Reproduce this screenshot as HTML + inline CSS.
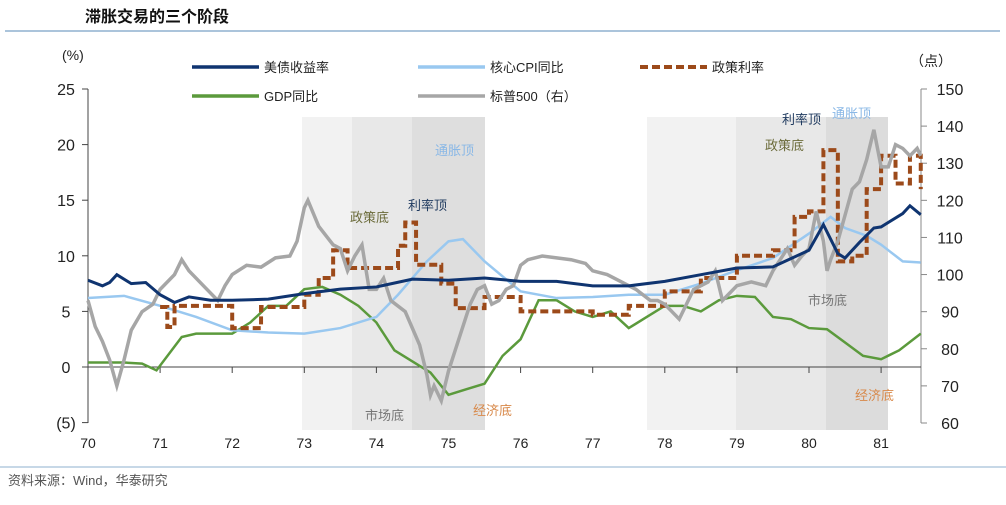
<!DOCTYPE html>
<html><head><meta charset="utf-8"><style>
body{margin:0;background:#fff;width:1006px;height:500px;overflow:hidden;font-family:"Liberation Sans","Noto Sans CJK SC",sans-serif}
svg text{font-family:"Liberation Sans","Noto Sans CJK SC",sans-serif}
</style></head><body>
<svg id="c" width="1006" height="500">
<text x="85" y="22" font-size="16" font-weight="bold" fill="#111">滞胀交易的三个阶段</text>
<line x1="5" y1="31" x2="1000" y2="31" stroke="#8fb0cf" stroke-width="1.5"/>
<text x="62" y="60" font-size="14" fill="#222">(%)</text>
<text x="910" y="66" font-size="14" fill="#222">（点）</text>
<g id="shade"></g>
<g id="axes"></g>
<g id="series"></g>
<g id="notes" font-size="13"></g>
<g id="legend" font-size="13"></g>
<line x1="0" y1="467" x2="1006" y2="467" stroke="#8fb0cf" stroke-width="1"/>
<text x="8" y="485" font-size="13" fill="#555">资料来源：Wind，华泰研究</text>
</svg>
<script>
const ns="http://www.w3.org/2000/svg";
const years=[70,71,72,73,74,75,76,77,78,79,80,81];
const leftTicks=[25,20,15,10,5,0,-5];
const rightTicks=[150,140,130,120,110,100,90,80,70,60];
const ustT=[70.0,70.2,70.3,70.4,70.6,70.8,71.0,71.2,71.4,71.7,72.0,72.5,73.0,73.5,74.0,74.5,75.0,75.5,76.0,76.5,77.0,77.5,78.0,78.5,79.0,79.5,80.0,80.2,80.4,80.5,80.7,80.9,81.0,81.3,81.4,81.55];
const ustV=[7.8,7.3,7.6,8.3,7.5,7.6,6.5,5.8,6.3,6.0,6.0,6.1,6.6,7.0,7.2,7.9,7.8,8.0,7.7,7.7,7.3,7.3,7.7,8.3,8.9,9.0,10.5,12.8,10.2,9.8,11.2,12.5,12.6,13.8,14.5,13.7];
const cpiT=[70.0,70.5,71.0,71.5,72.0,72.5,73.0,73.5,74.0,74.3,74.7,75.0,75.2,75.5,76.0,76.5,77.0,77.5,78.0,78.5,79.0,79.5,80.0,80.3,80.5,80.8,81.0,81.3,81.55];
const cpiV=[6.2,6.4,5.5,4.5,3.3,3.1,3.0,3.5,4.5,6.5,9.5,11.3,11.5,9.5,6.8,6.2,6.3,6.5,6.5,7.5,8.7,9.8,12.0,13.5,12.5,11.8,11.0,9.5,9.4];
const fedT=[71.0,71.1,71.2,72.0,72.4,73.0,73.2,73.4,73.6,74.3,74.4,74.55,74.9,75.1,75.5,76.0,77.0,77.5,78.0,78.5,79.0,79.5,79.8,80.0,80.2,80.4,80.6,80.8,81.0,81.2,81.4,81.55];
const fedV=[5.4,3.6,5.5,3.5,5.4,6.5,8.0,10.5,8.9,10.9,13.0,9.2,7.5,5.3,6.3,5.0,4.7,5.5,6.8,8.0,10.0,10.5,13.5,14.0,19.5,9.5,10.0,16.0,19.0,16.5,19.0,16.0];
const gdpT=[70.0,70.25,70.5,70.75,70.95,71.3,71.5,71.75,72.0,72.25,72.5,72.75,73.0,73.25,73.5,73.75,74.0,74.25,74.5,74.75,75.0,75.25,75.5,75.75,76.0,76.25,76.5,76.75,77.0,77.25,77.5,77.75,78.0,78.25,78.5,78.75,79.0,79.25,79.5,79.75,80.0,80.25,80.5,80.75,81.0,81.25,81.55];
const gdpV=[0.4,0.4,0.4,0.3,-0.3,2.7,3.0,3.0,3.0,4.0,5.5,5.5,7.0,7.2,6.5,5.5,4.0,1.5,0.5,-0.5,-2.5,-2.0,-1.5,1.0,2.5,6.0,6.0,5.0,4.5,5.0,3.5,4.5,5.5,5.5,5.0,6.0,6.4,6.3,4.5,4.3,3.5,3.4,2.2,1.0,0.7,1.5,3.0];
const spxT=[70.0,70.1,70.2,70.3,70.4,70.5,70.6,70.75,70.9,71.0,71.2,71.3,71.4,71.6,71.8,71.9,72.0,72.2,72.4,72.6,72.8,72.9,73.0,73.05,73.2,73.4,73.5,73.6,73.7,73.8,73.9,74.0,74.1,74.2,74.4,74.6,74.7,74.75,74.8,74.9,75.0,75.1,75.2,75.3,75.4,75.5,75.6,75.7,75.8,75.9,76.0,76.1,76.3,76.5,76.7,76.9,77.0,77.2,77.4,77.6,77.8,77.9,78.0,78.1,78.2,78.3,78.4,78.6,78.7,78.8,78.9,79.0,79.2,79.4,79.5,79.6,79.7,79.8,79.9,80.0,80.1,80.2,80.25,80.3,80.4,80.5,80.6,80.7,80.8,80.9,80.95,81.0,81.1,81.2,81.3,81.4,81.5,81.55];
const spxV=[93,86,82,77,70,77,85,90,92,96,100,104,101,97,93,97,100,102.5,102,104.5,105,109,118,120,113,108,107,101,105,108,96,96,99,93,90,81,73,67.5,70,66,74,80,86,92,96,97,92,93,96,97,102.5,104,105,104.5,104,103,101,100,98,96,93,93,92,90,88,92,96,98,101,93,95,97,98,97,101,104,107,102.5,105,107,117,109,101,104,109,116,123,125,131,139,134,129,129,135,134,132,134,132];
const X=y=>88+(y-70)*72.1;
const YL=v=>367-v*11.12;
const YR=v=>89+(150-v)*3.711;
function el(tag,attrs,parent){const e=document.createElementNS(ns,tag);for(const k in attrs)e.setAttribute(k,attrs[k]);document.getElementById(parent).appendChild(e);return e;}
[[302,352,'#f2f2f2'],[352,412,'#e8e8e8'],[412,485,'#dedede'],[647,736,'#f2f2f2'],[736,826,'#e8e8e8'],[826,888,'#dcdcdc']].forEach(s=>{
 const r=el('rect',{x:s[0],y:117,width:s[1]-s[0],height:313,fill:s[2]},'shade');
 
 
});
let a=el('line',{x1:88,y1:89,x2:88,y2:423,stroke:'#444'},'axes');
a=el('line',{x1:921,y1:89,x2:921,y2:423,stroke:'#888'},'axes');
a=el('line',{x1:88,y1:YL(0),x2:921,y2:YL(0),stroke:'#444'},'axes');
leftTicks.forEach(v=>{el('line',{x1:82,x2:88,y1:YL(v),y2:YL(v),stroke:'#444'},'axes');
 const t=el('text',{x:66,y:YL(v)+6,'font-size':16,'text-anchor':'middle',fill:'#222'},'axes');t.textContent=v<0?'('+(-v)+')':v;
 });
rightTicks.forEach(v=>{el('line',{x1:921,x2:927,y1:YR(v),y2:YR(v),stroke:'#888'},'axes');
 const t=el('text',{x:950,y:YR(v)+6,'font-size':16,'text-anchor':'middle',fill:'#222'},'axes');t.textContent=v;
 });
years.forEach(y=>{el('line',{x1:X(y),x2:X(y),y1:YL(0),y2:YL(0)+6,stroke:'#444'},'axes');
 const t=el('text',{x:X(y),y:448,'font-size':14,'text-anchor':'middle',fill:'#222'},'axes');t.textContent=y;
 });
function pathOf(T,V,Y,step){let d='';T.forEach((t,i)=>{if(i===0)d='M'+X(t)+','+Y(V[i]);else if(step)d+='H'+X(t)+'V'+Y(V[i]);else d+='L'+X(t)+','+Y(V[i]);});return d;}
let p=el('path',{d:pathOf(gdpT,gdpV,YL),fill:'none',stroke:'#5b9a3c','stroke-width':2.5},'series');
p=el('path',{d:pathOf(cpiT,cpiV,YL),fill:'none',stroke:'#99c8f0','stroke-width':2.5},'series');
p=el('path',{d:pathOf(fedT,fedV,YL,true),fill:'none',stroke:'#9c4a1a','stroke-width':4,'stroke-dasharray':'8,4'},'series');
p=el('path',{d:pathOf(spxT,spxV,YR),fill:'none',stroke:'#a6a6a6','stroke-width':3.5},'series');
p=el('path',{d:pathOf(ustT,ustV,YL),fill:'none',stroke:'#0f3470','stroke-width':3},'series');
[['通胀顶',435,155,'#8ab8e6'],['利率顶',408,210,'#1f3a5f'],['政策底',350,222,'#6b6b3a'],['市场底',365,420,'#777'],['经济底',473,415,'#d8894a'],
 ['利率顶',782,124,'#1f3a5f'],['通胀顶',832,118,'#8ab8e6'],['政策底',765,150,'#6b6b3a'],['市场底',808,305,'#777'],['经济底',855,400,'#d8894a']].forEach(n=>{
 const t=el('text',{x:n[1],y:n[2],fill:n[3]},'notes');t.textContent=n[0];
 });
[['美债收益率',192,67,'#0f3470',''],['核心CPI同比',418,67,'#99c8f0',''],['政策利率',640,67,'#9c4a1a','8,4'],['GDP同比',192,96,'#5b9a3c',''],['标普500（右）',418,96,'#a6a6a6','']].forEach(l=>{
 const g=el('g',{},'legend');
 const ln=document.createElementNS(ns,'line');[['x1',l[1]],['x2',l[1]+67],['y1',l[2]],['y2',l[2]],['stroke',l[3]],['stroke-width',l[4]?4:3.5]].forEach(q=>ln.setAttribute(q[0],q[1]));if(l[4])ln.setAttribute('stroke-dasharray',l[4]);g.appendChild(ln);
 const t=document.createElementNS(ns,'text');t.setAttribute('x',l[1]+72);t.setAttribute('y',l[2]+5);t.setAttribute('fill','#222');t.textContent=l[0];g.appendChild(t);
});
</script>
</body></html>
